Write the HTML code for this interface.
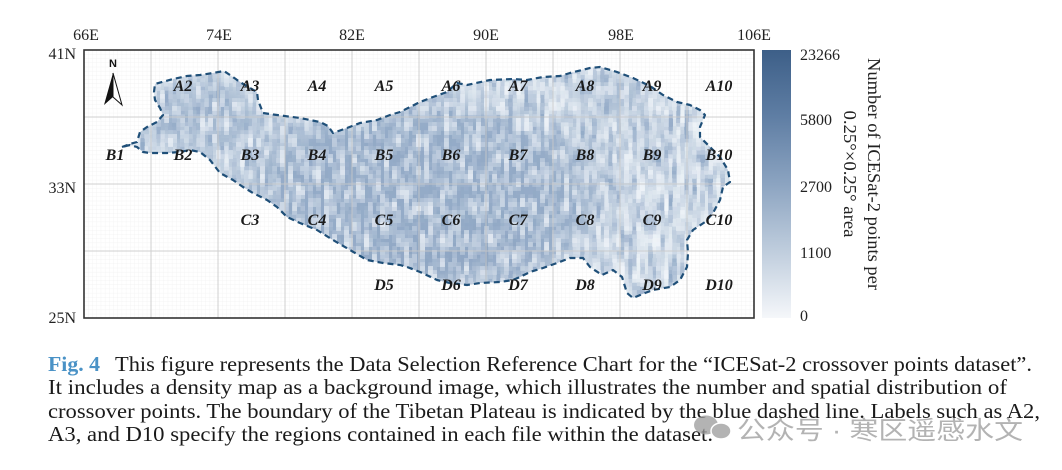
<!DOCTYPE html>
<html><head><meta charset="utf-8">
<style>
html,body{margin:0;padding:0;background:#fff;}
body{width:1062px;height:470px;overflow:hidden;}
svg{display:block;}
</style></head>
<body>
<svg width="1062" height="470" viewBox="0 0 1062 470" xmlns="http://www.w3.org/2000/svg">
<defs>
<clipPath id="tp"><path d="M122 147 L130 144 L137 142 L140 132 L147 127 L157 122 L163 115 L160 108 L155 100 L154 92 L155 84 L173 79 L187 76 L200 75 L213 73 L224 71 L230 75 L240 82 L250 88 L257 92 L258 100 L263 113 L277 115 L300 118 L320 122 L328 126 L333 133 L347 128 L360 123 L377 120 L390 115 L400 112 L420 102 L433 97 L447 92 L457 83 L467 85 L490 80 L513 79 L527 80 L543 77 L560 76 L570 73 L590 68 L600 67 L617 72 L633 78 L650 86 L663 95 L677 102 L690 105 L700 110 L705 115 L700 127 L700 137 L710 147 L720 157 L728 170 L730 182 L723 187 L720 200 L713 213 L705 222 L693 230 L687 240 L688 253 L687 267 L680 280 L670 287 L653 290 L645 293 L633 298 L627 293 L622 277 L613 270 L602 275 L590 267 L583 258 L570 258 L557 263 L543 268 L530 272 L520 277 L513 280 L500 282 L480 283 L467 285 L450 283 L437 280 L420 272 L407 267 L400 265 L383 263 L367 260 L350 250 L333 240 L317 230 L300 223 L287 217 L277 207 L267 200 L253 193 L243 187 L233 180 L220 173 L210 160 L200 152 L190 150 L180 152 L167 153 L150 153 L143 152 L137 147 L130 145 Z"/></clipPath>
<pattern id="minor" width="4.1875" height="4.1875" patternUnits="userSpaceOnUse" x="84" y="50">
<path d="M0 0H4.1875M0 0V4.1875" stroke="#f0f0f0" stroke-width="0.6" fill="none"/>
</pattern>
<linearGradient id="cb" x1="0" y1="0" x2="0" y2="1">
<stop offset="0" stop-color="#3d5f88"/>
<stop offset="0.25" stop-color="#5f7ea4"/>
<stop offset="0.5" stop-color="#8ca4c1"/>
<stop offset="0.75" stop-color="#bfcddd"/>
<stop offset="1" stop-color="#f5f7fa"/>
</linearGradient>
<filter id="blur" x="-50%" y="-50%" width="200%" height="200%">
<feGaussianBlur stdDeviation="14"/>
</filter>
<filter id="noiseD" filterUnits="userSpaceOnUse" x="84" y="50" width="670" height="268">
<feTurbulence type="fractalNoise" baseFrequency="0.22 0.035" numOctaves="2" seed="3" result="t"/>
<feColorMatrix in="t" type="matrix" values="0 0 0 0 0.30  0 0 0 0 0.41  0 0 0 0 0.58  2.8 0 0 0 -1.12" result="n"/>
<feFlood x="86" y="52" width="1" height="1" flood-color="#000" result="dot"/>
<feComposite in="dot" in2="dot" operator="over" x="84" y="50" width="4" height="4" result="cell"/>
<feTile in="cell" result="tiles"/>
<feComposite in="n" in2="tiles" operator="in" result="dots"/>
<feMorphology in="dots" operator="dilate" radius="2"/>
</filter>
<filter id="noiseL" filterUnits="userSpaceOnUse" x="84" y="50" width="670" height="268">
<feTurbulence type="fractalNoise" baseFrequency="0.2 0.06" numOctaves="2" seed="11" result="t"/>
<feColorMatrix in="t" type="matrix" values="0 0 0 0 0.95  0 0 0 0 0.97  0 0 0 0 0.99  2.6 0 0 0 -1.1" result="n"/>
<feFlood x="86" y="52" width="1" height="1" flood-color="#000" result="dot"/>
<feComposite in="dot" in2="dot" operator="over" x="84" y="50" width="4" height="4" result="cell"/>
<feTile in="cell" result="tiles"/>
<feComposite in="n" in2="tiles" operator="in" result="dots"/>
<feMorphology in="dots" operator="dilate" radius="2"/>
</filter>
</defs>

<!-- plot background -->
<rect x="84" y="50" width="670" height="268" fill="#fff"/>
<rect x="84" y="50" width="670" height="268" fill="url(#minor)"/>

<!-- density -->
<g clip-path="url(#tp)">
<rect x="84" y="50" width="670" height="268" fill="#dde6ee"/>
<g filter="url(#blur)">
<ellipse cx="420" cy="195" rx="175" ry="95" fill="#93aac6"/>
<ellipse cx="205" cy="118" rx="60" ry="38" fill="#a3b7cf"/>
<ellipse cx="470" cy="255" rx="95" ry="26" fill="#8ea5c2"/>
<ellipse cx="615" cy="92" rx="48" ry="18" fill="#a6b9d0"/>
<ellipse cx="590" cy="165" rx="25" ry="35" fill="#b0c1d5"/>
<ellipse cx="600" cy="228" rx="22" ry="16" fill="#b6c6d8"/>
<ellipse cx="655" cy="150" rx="14" ry="28" fill="#bccadb"/>
</g>
<rect x="84" y="50" width="670" height="268" filter="url(#noiseD)"/>
<rect x="84" y="50" width="670" height="268" filter="url(#noiseL)" opacity="0.75"/>
</g>

<!-- major grid -->
<g stroke="#c9c9c9" stroke-width="1" opacity="0.85">
<line x1="151" y1="50" x2="151" y2="318"/>
<line x1="218" y1="50" x2="218" y2="318"/>
<line x1="285" y1="50" x2="285" y2="318"/>
<line x1="352" y1="50" x2="352" y2="318"/>
<line x1="419" y1="50" x2="419" y2="318"/>
<line x1="486" y1="50" x2="486" y2="318"/>
<line x1="553" y1="50" x2="553" y2="318"/>
<line x1="620" y1="50" x2="620" y2="318"/>
<line x1="687" y1="50" x2="687" y2="318"/>
<line x1="84" y1="117" x2="754" y2="117"/>
<line x1="84" y1="184" x2="754" y2="184"/>
<line x1="84" y1="251" x2="754" y2="251"/>
</g>

<!-- boundary -->
<path d="M122 147 L130 144 L137 142 L140 132 L147 127 L157 122 L163 115 L160 108 L155 100 L154 92 L155 84 L173 79 L187 76 L200 75 L213 73 L224 71 L230 75 L240 82 L250 88 L257 92 L258 100 L263 113 L277 115 L300 118 L320 122 L328 126 L333 133 L347 128 L360 123 L377 120 L390 115 L400 112 L420 102 L433 97 L447 92 L457 83 L467 85 L490 80 L513 79 L527 80 L543 77 L560 76 L570 73 L590 68 L600 67 L617 72 L633 78 L650 86 L663 95 L677 102 L690 105 L700 110 L705 115 L700 127 L700 137 L710 147 L720 157 L728 170 L730 182 L723 187 L720 200 L713 213 L705 222 L693 230 L687 240 L688 253 L687 267 L680 280 L670 287 L653 290 L645 293 L633 298 L627 293 L622 277 L613 270 L602 275 L590 267 L583 258 L570 258 L557 263 L543 268 L530 272 L520 277 L513 280 L500 282 L480 283 L467 285 L450 283 L437 280 L420 272 L407 267 L400 265 L383 263 L367 260 L350 250 L333 240 L317 230 L300 223 L287 217 L277 207 L267 200 L253 193 L243 187 L233 180 L220 173 L210 160 L200 152 L190 150 L180 152 L167 153 L150 153 L143 152 L137 147 L130 145 Z" fill="none" stroke="#1f4f78" stroke-width="2.2" stroke-dasharray="6 4" stroke-linejoin="round"/>

<!-- frame -->
<rect x="84" y="50" width="670" height="268" fill="none" stroke="#333" stroke-width="1.6"/>

<!-- north arrow -->
<text x="113" y="67" text-anchor="middle" font-family="Liberation Sans, sans-serif" font-weight="bold" font-size="11" fill="#111">N</text>
<path d="M113 73 L104 105 L113 97 Z" fill="#111"/>
<path d="M113 73 L122 105 L113 97 Z" fill="#fff" stroke="#111" stroke-width="1"/>

<!-- region labels -->
<g font-family="Liberation Serif, serif" font-weight="bold" font-style="italic" font-size="16" fill="#1a1a1a" text-anchor="middle">
<text x="183" y="91">A2</text><text x="250" y="91">A3</text><text x="317" y="91">A4</text><text x="384" y="91">A5</text><text x="451" y="91">A6</text><text x="518" y="91">A7</text><text x="585" y="91">A8</text><text x="652" y="91">A9</text><text x="719" y="91">A10</text>
<text x="115" y="160">B1</text><text x="183" y="160">B2</text><text x="250" y="160">B3</text><text x="317" y="160">B4</text><text x="384" y="160">B5</text><text x="451" y="160">B6</text><text x="518" y="160">B7</text><text x="585" y="160">B8</text><text x="652" y="160">B9</text><text x="719" y="160">B10</text>
<text x="250" y="225">C3</text><text x="317" y="225">C4</text><text x="384" y="225">C5</text><text x="451" y="225">C6</text><text x="518" y="225">C7</text><text x="585" y="225">C8</text><text x="652" y="225">C9</text><text x="719" y="225">C10</text>
<text x="384" y="290">D5</text><text x="451" y="290">D6</text><text x="518" y="290">D7</text><text x="585" y="290">D8</text><text x="652" y="290">D9</text><text x="719" y="290">D10</text>
</g>

<!-- axis tick labels -->
<g font-family="Liberation Serif, serif" font-size="16" fill="#222">
<text x="86" y="40" text-anchor="middle">66E</text>
<text x="219" y="40" text-anchor="middle">74E</text>
<text x="352" y="40" text-anchor="middle">82E</text>
<text x="486" y="40" text-anchor="middle">90E</text>
<text x="621" y="40" text-anchor="middle">98E</text>
<text x="754" y="40" text-anchor="middle">106E</text>
<text x="76" y="59" text-anchor="end">41N</text>
<text x="76" y="193" text-anchor="end">33N</text>
<text x="76" y="323" text-anchor="end">25N</text>
</g>

<!-- colorbar -->
<rect x="762" y="50" width="29" height="268" fill="url(#cb)"/>
<g font-family="Liberation Serif, serif" font-size="16" fill="#222">
<text x="800" y="60">23266</text>
<text x="800" y="125">5800</text>
<text x="800" y="192">2700</text>
<text x="800" y="258">1100</text>
<text x="800" y="321">0</text>
</g>
<g font-family="Liberation Serif, serif" font-size="18" fill="#222" text-anchor="middle">
<text transform="translate(868,174) rotate(90)" textLength="232" lengthAdjust="spacingAndGlyphs">Number of ICESat-2 points per</text>
<text transform="translate(844,174) rotate(90)" textLength="127" lengthAdjust="spacingAndGlyphs">0.25°×0.25° area</text>
</g>

<!-- caption -->
<g font-family="Liberation Serif, serif" font-size="21" fill="#1a1a1a">
<text x="48" y="371" font-weight="bold" fill="#4a92c6" textLength="52" lengthAdjust="spacingAndGlyphs">Fig. 4</text>
<text x="115" y="371" textLength="917" lengthAdjust="spacingAndGlyphs">This figure represents the Data Selection Reference Chart for the “ICESat-2 crossover points dataset”.</text>
<text x="48" y="394" textLength="959" lengthAdjust="spacingAndGlyphs">It includes a density map as a background image, which illustrates the number and spatial distribution of</text>
<text x="48" y="418" textLength="992" lengthAdjust="spacingAndGlyphs">crossover points. The boundary of the Tibetan Plateau is indicated by the blue dashed line. Labels such as A2,</text>
<text x="48" y="441" textLength="665" lengthAdjust="spacingAndGlyphs">A3, and D10 specify the regions contained in each file within the dataset.</text>
</g>

<!-- watermark -->
<g opacity="0.75">
<ellipse cx="706" cy="425" rx="12" ry="9.5" fill="#9a9a9a"/>
<ellipse cx="721" cy="431" rx="10" ry="8" fill="#9a9a9a" stroke="#fff" stroke-width="1.5"/>
<text x="737" y="439" font-family="Liberation Sans, 'Noto Sans CJK SC', sans-serif" font-size="25" fill="#9a9a9a" textLength="286" lengthAdjust="spacingAndGlyphs">公众号 · 寒区遥感水文</text>
</g>
</svg>
</body></html>
